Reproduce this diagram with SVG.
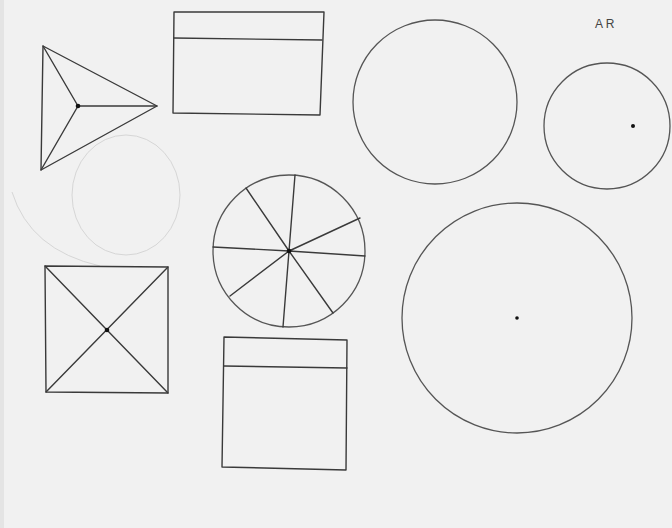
<svg xmlns="http://www.w3.org/2000/svg" width="672" height="528" viewBox="0 0 672 528">
<style>
.p{fill:none;stroke:#3a3a3a;stroke-width:1.4;stroke-linecap:round;stroke-linejoin:round}
.c{fill:none;stroke:#555;stroke-width:1.3}
.f{fill:none;stroke:#d6d6d6;stroke-width:1}
.d{fill:#111}
.t{font-family:"Liberation Sans",Arial,sans-serif;font-size:12px;fill:#444}
</style>
<rect width="672" height="528" fill="#f1f1f1"/>
<rect x="0" y="0" width="4" height="528" fill="#e4e4e4"/>
<g id="erased-circle">
<ellipse class="f" cx="126" cy="195" rx="54" ry="60"/>
<path class="f" d="M12,192 Q30,250 100,266"/>
</g>
<g id="triangle">
<polygon class="p" points="43,46 157,106 41,170"/>
<path class="p" d="M78,106 L43,46 M78,106 L157,106 M78,106 L41,170"/>
<circle class="d" cx="78" cy="106" r="2.3"/>
</g>
<g id="rect-top">
<polygon class="p" points="174,12 324,12 320,115 173,113"/>
<path class="p" d="M174,38 L322,40"/>
</g>
<g id="circle-mid"><circle class="c" cx="435" cy="102" r="82"/></g>
<g id="circle-right">
<circle class="c" cx="607" cy="126" r="63"/>
<circle class="d" cx="633" cy="126" r="2"/>
</g>
<text class="t" x="595" y="28">A R</text>
<g id="wheel">
<circle class="c" cx="289" cy="251" r="76"/>
<path class="p" d="M289,251 L295,175 M289,251 L246,188 M289,251 L360,218 M289,251 L213,247 M289,251 L365,256 M289,251 L230,296 M289,251 L283,327 M289,251 L333,313"/>
<circle class="d" cx="289" cy="251" r="2.3"/>
</g>
<g id="square-x">
<polygon class="p" points="45,266 168,267 168,393 46,392"/>
<path class="p" d="M45,266 L168,393 M168,267 L46,392"/>
<circle class="d" cx="107" cy="330" r="2.3"/>
</g>
<g id="rect-bottom">
<polygon class="p" points="224,337 347,340 346,470 222,467"/>
<path class="p" d="M224,366 L347,368"/>
</g>
<g id="circle-big">
<circle class="c" cx="517" cy="318" r="115"/>
<circle class="d" cx="517" cy="318" r="1.8"/>
</g>
</svg>
